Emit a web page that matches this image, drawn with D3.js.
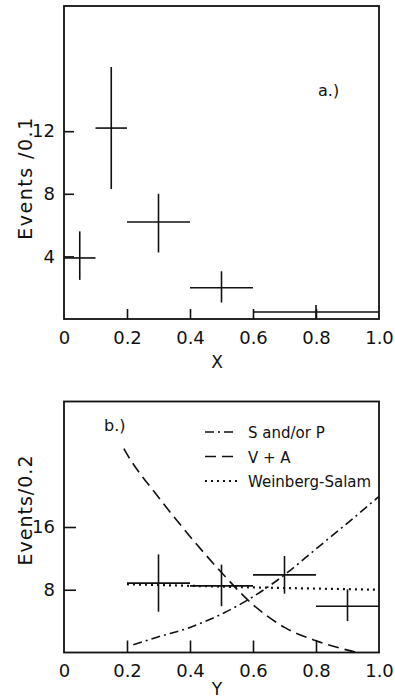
<!DOCTYPE html>
<html>
<head>
<meta charset="utf-8">
<script src="https://cdn.jsdelivr.net/npm/d3@7"></script>
<style>
  body { margin: 0; background: #fff; }
  svg text { font-family: "DejaVu Sans", sans-serif; fill: #111; }
</style>
</head>
<body>
<div id="chart"></div>
<script>
/* Two stacked panels: x and y distributions with error crosses */

// shared x ticks
const xTicks = [0, 0.2, 0.4, 0.6, 0.8, 1.0];
const xTickLabels = ["0", "0.2", "0.4", "0.6", "0.8", "1.0"];

// panel a.) events per 0.1 in X
const aBinLo = [0, 0.1, 0.2, 0.4, 0.6];
const aBinHi = [0.1, 0.2, 0.4, 0.6, 1.0];
const aMid = [0.05, 0.15, 0.3, 0.5, 0.8];
const aVal = [3.9, 12.2, 6.2, 2.0, 0.45];
const aErrLo = [2.5, 8.3, 4.25, 1.05, 0];
const aErrHi = [5.6, 16.1, 8.0, 3.05, 0.9];
const aYTicks = [4, 8, 12];

// panel b.) events per 0.2 in Y
const bBinLo = [0.2, 0.4, 0.6, 0.8];
const bBinHi = [0.4, 0.6, 0.8, 1.0];
const bMid = [0.3, 0.5, 0.7, 0.9];
const bVal = [8.85, 8.5, 9.9, 5.9];
const bErrLo = [5.2, 5.9, 7.5, 4.0];
const bErrHi = [12.5, 11.2, 12.3, 8.05];
const bYTicks = [8, 16];

// model curves in panel b
const spY = [0.22, 0.3, 0.4, 0.5, 0.6, 0.7, 0.8, 0.9, 1.0];
const spV = [1.0, 2.0, 3.2, 4.9, 7.1, 9.9, 13.2, 16.5, 19.9];
const vaY = [0.19, 0.2, 0.3, 0.4, 0.5, 0.6, 0.7, 0.8, 0.9, 0.93];
const vaV = [26, 25.3, 19.8, 14.8, 10.2, 6.1, 3.2, 1.5, 0.3, 0];
const wsY = [0.2, 0.4, 0.6, 0.8, 1.0];
const wsV = [8.7, 8.5, 8.3, 8.15, 8.0];

const legendNames = ["S and/or P", "V + A", "Weinberg-Salam"];
const legendDash = ["9,4,2,4", "11,6", "2,4"];

const width = 395, height = 700;

const svg = d3.select("#chart").append("svg")
    .attr("width", width)
    .attr("height", height);

function panel(opt) {
    const x = d3.scaleLinear().domain([0, 1]).range([64, 379]);
    const y = d3.scaleLinear().domain(opt.yDomain).range([opt.bottom, opt.top]);
    const g = svg.append("g");

    g.append("rect")
        .attr("x", x(0)).attr("y", y(opt.yDomain[1]))
        .attr("width", x(1) - x(0)).attr("height", y(0) - y(opt.yDomain[1]))
        .attr("fill", "none").attr("stroke", "#111").attr("stroke-width", 1.8);

    const xa = g.append("g")
        .attr("transform", `translate(0,${y(0)})`)
        .call(d3.axisBottom(x).tickValues(xTicks)
            .tickFormat((d, i) => xTickLabels[i])
            .tickSizeInner(-opt.tick).tickSizeOuter(0).tickPadding(12));
    xa.select(".domain").remove();
    xa.selectAll(".tick line").attr("stroke", "#111").attr("stroke-width", 1.6)
        .filter(d => d === 0 || d === 1).remove();
    xa.selectAll("text").attr("font-size", 18).attr("fill", "#111");

    const ya = g.append("g")
        .attr("transform", `translate(${x(0)},0)`)
        .call(d3.axisLeft(y).tickValues(opt.yTicks)
            .tickSizeInner(-opt.tick).tickSizeOuter(0).tickPadding(9));
    ya.select(".domain").remove();
    ya.selectAll(".tick line").attr("stroke", "#111").attr("stroke-width", 1.6);
    ya.selectAll("text").attr("font-size", 18).attr("fill", "#111");

    // error crosses
    const err = g.append("g").attr("stroke", "#111").attr("stroke-width", 1.6);
    opt.mid.forEach((m, i) => {
        err.append("line")
            .attr("x1", x(opt.lo[i])).attr("x2", x(opt.hi[i]))
            .attr("y1", y(opt.val[i])).attr("y2", y(opt.val[i]));
        err.append("line")
            .attr("x1", x(m)).attr("x2", x(m))
            .attr("y1", y(opt.errLo[i])).attr("y2", y(opt.errHi[i]));
    });

    g.append("text")
        .attr("transform", `translate(32,${opt.titleY}) rotate(-90)`)
        .attr("text-anchor", "middle")
        .attr("font-size", 19)
        .attr("letter-spacing", opt.spacing)
        .text(opt.yTitle);

    g.append("text")
        .attr("x", 217).attr("y", opt.xTitleY)
        .attr("text-anchor", "middle")
        .attr("font-size", 17)
        .text(opt.xTitle);

    g.append("text")
        .attr("x", opt.tagX).attr("y", opt.tagY)
        .attr("font-size", 16)
        .text(opt.tag);

    return { x, y, g };
}

panel({
    yDomain: [0, 20], top: 6, bottom: 319, tick: 10,
    yTicks: aYTicks, lo: aBinLo, hi: aBinHi, mid: aMid, val: aVal,
    errLo: aErrLo, errHi: aErrHi,
    yTitle: "Events /0.1", titleY: 178, spacing: 1.5,
    xTitle: "X", xTitleY: 368,
    tag: "a.)", tagX: 318, tagY: 96
});

const b = panel({
    yDomain: [0, 32], top: 401.5, bottom: 652.5, tick: 12,
    yTicks: bYTicks, lo: bBinLo, hi: bBinHi, mid: bMid, val: bVal,
    errLo: bErrLo, errHi: bErrHi,
    yTitle: "Events/0.2", titleY: 510, spacing: 1,
    xTitle: "Y", xTitleY: 695,
    tag: "b.)", tagX: 104, tagY: 431
});

const line = d3.line()
    .x(d => b.x(d[0]))
    .y(d => b.y(d[1]))
    .curve(d3.curveMonotoneX);

const curves = [
    d3.zip(spY, spV),
    d3.zip(vaY, vaV),
    d3.zip(wsY, wsV)
];

curves.forEach((c, i) => {
    b.g.append("path")
        .attr("d", line(c))
        .attr("fill", "none")
        .attr("stroke", "#111")
        .attr("stroke-width", i === 2 ? 2.2 : 1.6)
        .attr("stroke-dasharray", legendDash[i]);
});

// legend
const leg = b.g.append("g");
legendNames.forEach((name, i) => {
    const ly = 432 + i * 24.5;
    leg.append("line")
        .attr("x1", 205).attr("x2", 237)
        .attr("y1", ly).attr("y2", ly)
        .attr("stroke", "#111")
        .attr("stroke-width", i === 2 ? 2.2 : 1.6)
        .attr("stroke-dasharray", legendDash[i]);
    leg.append("text")
        .attr("x", 248).attr("y", ly + 6)
        .attr("font-size", 15)
        .text(name);
});
</script>
</body>
</html>
